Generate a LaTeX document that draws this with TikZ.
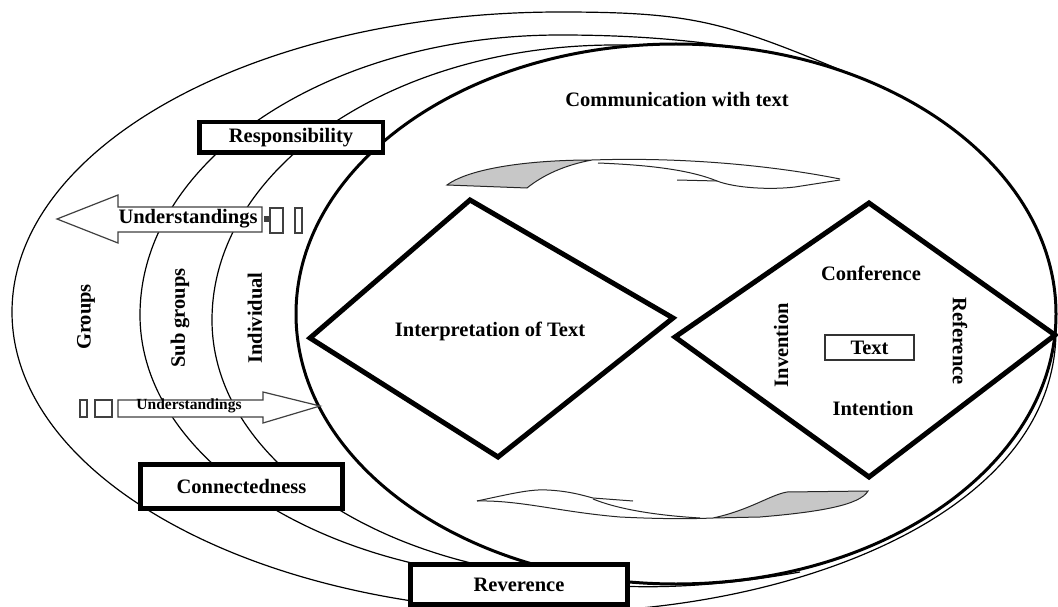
\documentclass[tikz,border=0pt]{standalone}
\usepackage{fontspec}
\setmainfont{Liberation Serif}
\begin{document}
\begin{tikzpicture}[x=1pt,y=-1pt,
  lbl/.style={font=\fontsize{20.5}{24}\selectfont\bfseries, inner sep=0pt},
  slbl/.style={font=\fontsize{15.5}{18}\selectfont\bfseries, inner sep=0pt},
  ring/.style={line width=1.2pt},
  mainring/.style={line width=3pt},
  dia/.style={line width=5pt, line join=miter},
  bigbox/.style={draw, line width=4.5pt, fill=white, inner sep=0pt,
    font=\fontsize{20.5}{24}\selectfont\bfseries},
  blk/.style={draw=black!75, line width=1.2pt, fill=white, line join=miter},
  smallbox/.style={draw=black!75, line width=1.3pt, fill=white},
  band/.style={line width=1pt, draw=black!85},
  greyband/.style={line width=1pt, draw=black!85, fill=black!22}]
\useasboundingbox (0,0) rectangle (1058,607);
\fill[white] (0,0) rectangle (1058,607);

% outer rings: Groups, Sub groups, Individual
\draw[ring] (867,81) .. controls (728,23) and (700,12) .. (560,12)
  .. controls (257,12) and (12,146) .. (12,312)
  .. controls (12,478) and (257,612) .. (560,612)
  .. controls (780,612) and (1056,520) .. (1056,330);
\draw[ring] (760,51) .. controls (700,41) and (640,35) .. (560,35)
  .. controls (328,35) and (140,160) .. (140,315)
  .. controls (140,461) and (328,580) .. (560,580)
  .. controls (620,590) and (700,590) .. (800,572);
\draw[ring] (640,46) .. controls (630,45) and (625,45) .. (615,45)
  .. controls (392,45) and (212,168) .. (212,320)
  .. controls (212,464) and (392,580) .. (615,580);

% main ellipse
\fill[white] (676,314) ellipse [x radius=380, y radius=270];
\draw[mainring] (676,314) ellipse [x radius=380, y radius=270];

% diamonds
\draw[dia] (310,338) -- (470,200) -- (673,318) -- (498,457) -- cycle;
\draw[dia] (675,337) -- (869,203) -- (1055,335) -- (869,477) -- cycle;

% boxes
\node[bigbox, minimum width=183.5pt, minimum height=30.5pt] (resp) at (291,137.5) {Responsibility};
\node[bigbox, minimum width=202pt, minimum height=44pt] (conn) at (241.5,486.5) {Connectedness};
\node[bigbox, minimum width=217pt, minimum height=40pt] (rev) at (519,584.5) {Reverence};
\node[draw=black!80, line width=2pt, minimum width=89pt, minimum height=25pt,
  inner sep=0pt, font=\fontsize{20.5}{24}\selectfont\bfseries] (text) at (869.5,347.5) {Text};

% upper understandings arrow (left)
\draw[blk] (57,219) -- (118,195) -- (118,207) -- (262,207) -- (262,232)
  -- (118,232) -- (118,243) -- cycle;
\draw[smallbox] (270,208) rectangle (283,233);
\draw[smallbox] (295,208) rectangle (302,233);
\fill[black!75] (264,216) rectangle (269,222);
\node[lbl] (und1) at (188,219) {Understandings};

% lower understandings arrow (right)
\draw[smallbox] (80,400) rectangle (87,417);
\draw[smallbox] (95,400) rectangle (112,417);
\draw[blk] (118,400) -- (263,400) -- (263,392) -- (320,406) -- (263,423)
  -- (263,417) -- (118,417) -- cycle;
\node[slbl] (und2) at (189,406) {Understandings};

% top curved arrow
\draw[greyband] (447,185) .. controls (470,168) and (530,160) .. (592,160)
  .. controls (565,165) and (543,175) .. (527,188) -- cycle;
\draw[band] (592,160) .. controls (680,157) and (770,165) .. (840,179);
\draw[band] (598,163) .. controls (650,165) and (690,170) .. (717,181);
\draw[band] (677,180) -- (717,181);
\draw[band] (717,181) .. controls (735,188) and (770,190) .. (795,187) -- (840,180);

% bottom curved arrow
\draw[greyband] (713,518) .. controls (750,510) and (770,495) .. (787,492)
  -- (868,491) .. controls (860,505) and (820,512) .. (760,517) -- cycle;
\draw[band] (477,501) .. controls (510,494) and (530,489) .. (547,490)
  .. controls (570,491) and (585,496) .. (593,498) -- (633,501);
\draw[band] (477,501) .. controls (520,500) and (560,512) .. (620,517)
  .. controls (660,519) and (690,519) .. (713,518);
\draw[band] (593,499) .. controls (615,508) and (650,515) .. (700,518);

% labels
\node[lbl] (comm) at (677,100) {Communication with text};
\node[lbl] (interp) at (490,331) {Interpretation of Text};
\node[lbl] (conf) at (871,273) {Conference};
\node[lbl] (intent) at (873,408) {Intention};
\node[lbl, rotate=90] (inv) at (781,345) {Invention};
\node[lbl, rotate=-90] (ref) at (960,341) {Reference};
\node[lbl, rotate=90] (groups) at (86,317) {Groups};
\node[lbl, rotate=90] (sub) at (180,318) {Sub groups};
\node[lbl, rotate=90] (indiv) at (255,318) {Individual};
\end{tikzpicture}
\end{document}
